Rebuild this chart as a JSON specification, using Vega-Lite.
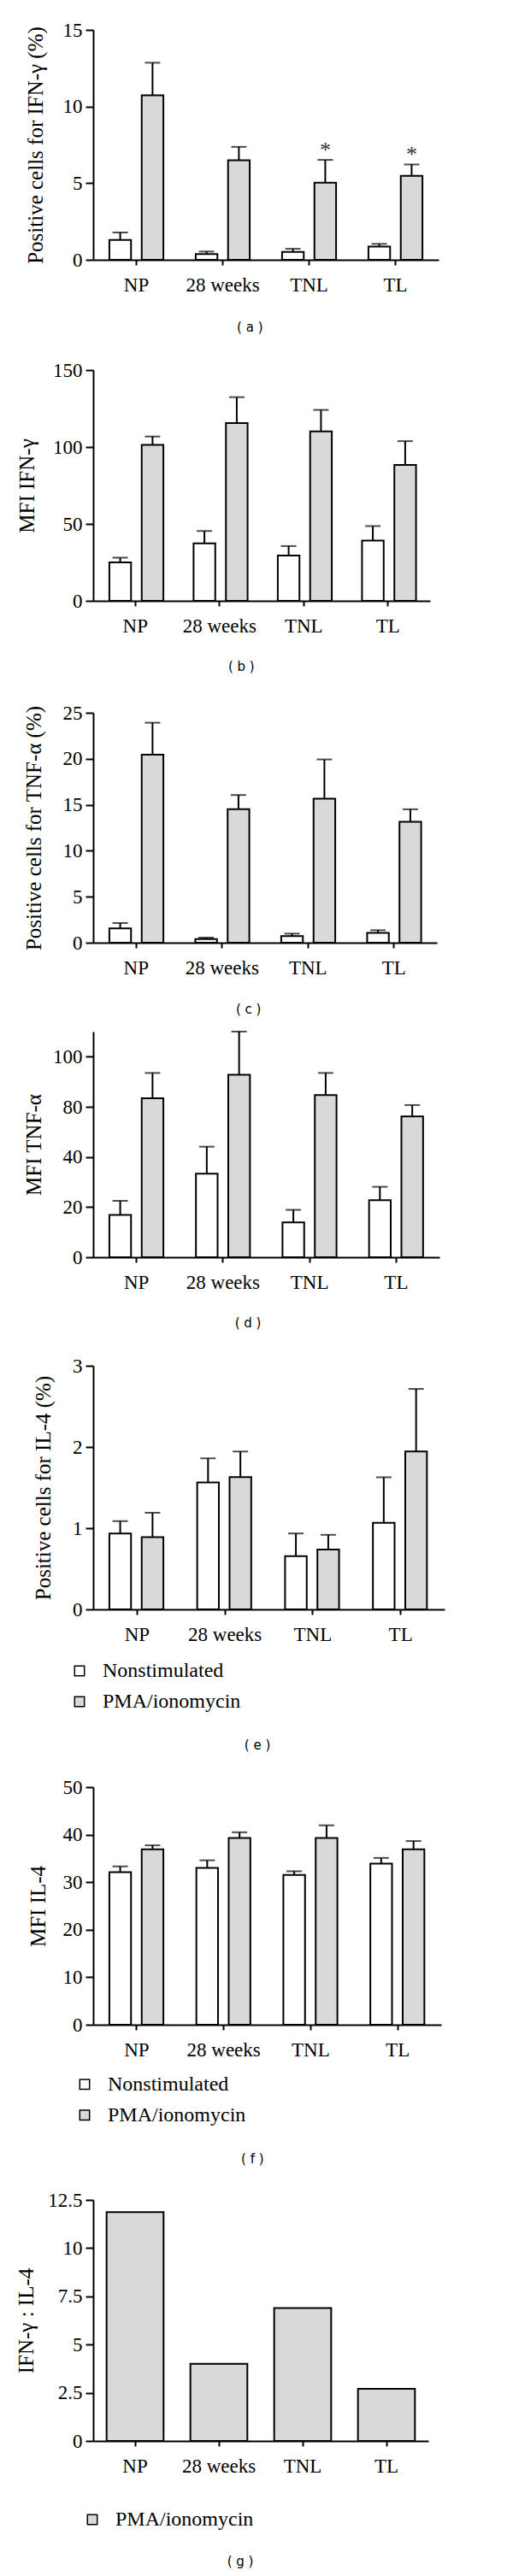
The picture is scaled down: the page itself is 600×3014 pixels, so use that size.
{
  "$schema": "https://vega.github.io/schema/vega-lite/v6.json",
  "background": "white",
  "padding": {"left": 18, "top": 24, "right": 5, "bottom": 5},
  "columns": 1,
  "align": "none",
  "spacing": 10,
  "resolve": {"scale": {"x": "independent", "y": "independent", "color": "independent"}, "legend": {"color": "independent"}},
  "config": {
    "view": {"stroke": null},
    "axis": {"domainColor": "black", "domainWidth": 2, "tickColor": "black", "tickWidth": 2, "labelColor": "black", "labelFont": "Liberation Serif", "labelFontSize": 23, "titleFont": "Liberation Serif", "titleFontSize": 25, "titleFontWeight": "normal", "titleColor": "black", "grid": false},
    "axisX": {"tickSize": 6, "labelPadding": 12.4, "labelAngle": 0},
    "axisY": {"tickSize": 9, "labelPadding": 4},
    "title": {"orient": "bottom", "font": "DejaVu Sans", "fontSize": 15, "fontWeight": "normal", "color": "black", "anchor": "middle", "frame": "group", "subtitleFontSize": 1, "subtitleColor": "white"},
    "legend": {"orient": "none", "direction": "vertical", "symbolType": "square", "symbolSize": 130, "symbolStrokeColor": "black", "symbolStrokeWidth": 1.5, "labelFont": "Liberation Serif", "labelFontSize": 24, "labelColor": "black", "rowPadding": 12, "labelOffset": 15, "padding": 0, "labelLimit": 400}
  },
  "concat": [
    {
      "width": 404, "height": 269,
      "data": {"values": [
        {"group": "NP", "cond": "Nonstimulated", "mean": 1.3, "err": 1.78},
        {"group": "NP", "cond": "PMA/ionomycin", "mean": 10.73, "err": 12.86},
        {"group": "28 weeks", "cond": "Nonstimulated", "mean": 0.37, "err": 0.54},
        {"group": "28 weeks", "cond": "PMA/ionomycin", "mean": 6.5, "err": 7.37},
        {"group": "TNL", "cond": "Nonstimulated", "mean": 0.52, "err": 0.72},
        {"group": "TNL", "cond": "PMA/ionomycin", "mean": 5.03, "err": 6.52, "sig": "*"},
        {"group": "TL", "cond": "Nonstimulated", "mean": 0.87, "err": 1.04},
        {"group": "TL", "cond": "PMA/ionomycin", "mean": 5.48, "err": 6.22, "sig": "*"}
      ]},
      "title": {"text": "( a )", "dx": -18.7, "offset": 30.1, "subtitle": " ", "subtitlePadding": 20.5},
      "encoding": {
        "x": {"field": "group", "type": "nominal", "sort": ["NP", "28 weeks", "TNL", "TL"], "scale": {"paddingInner": 0, "paddingOuter": 0}, "axis": {"title": null}},
        "xOffset": {"field": "cond", "type": "nominal", "sort": ["Nonstimulated", "PMA/ionomycin"], "scale": {"paddingInner": 0.33, "paddingOuter": 0.5}}
      },
      "layer": [
        {"mark": {"type": "bar", "stroke": "black", "strokeWidth": 2},
         "encoding": {
           "y": {"field": "mean", "type": "quantitative", "title": "Positive cells for IFN-γ (%)", "scale": {"domain": [0, 15], "nice": false}, "axis": {"values": [0, 5, 10, 15], "titlePadding": 18.7}},
           "color": {"field": "cond", "type": "nominal", "scale": {"domain": ["Nonstimulated", "PMA/ionomycin"], "range": ["#ffffff", "#d9d9d9"]}, "legend": null}}},
        {"mark": {"type": "rule", "strokeWidth": 2, "color": "black"},
         "encoding": {"y": {"field": "mean", "type": "quantitative", "title": "Positive cells for IFN-γ (%)"}, "y2": {"field": "err"}}},
        {"mark": {"type": "tick", "thickness": 2, "size": 18, "color": "black"},
         "encoding": {"y": {"field": "err", "type": "quantitative", "title": "Positive cells for IFN-γ (%)"}}},
        {"transform": [{"filter": "datum.sig"}],
         "mark": {"type": "text", "font": "Liberation Serif", "fontSize": 26, "baseline": "alphabetic", "dy": -3, "color": "#333333"},
         "encoding": {"y": {"field": "err", "type": "quantitative", "title": "Positive cells for IFN-γ (%)"}, "text": {"field": "sig"}}}
      ]
    },
    {
      "width": 394, "height": 270,
      "data": {"values": [
        {"group": "NP", "cond": "Nonstimulated", "mean": 25.0, "err": 28.0},
        {"group": "NP", "cond": "PMA/ionomycin", "mean": 101.4, "err": 106.8},
        {"group": "28 weeks", "cond": "Nonstimulated", "mean": 37.3, "err": 45.4},
        {"group": "28 weeks", "cond": "PMA/ionomycin", "mean": 115.5, "err": 132.4},
        {"group": "TNL", "cond": "Nonstimulated", "mean": 29.5, "err": 35.6},
        {"group": "TNL", "cond": "PMA/ionomycin", "mean": 110.1, "err": 124.1},
        {"group": "TL", "cond": "Nonstimulated", "mean": 39.1, "err": 48.6},
        {"group": "TL", "cond": "PMA/ionomycin", "mean": 88.3, "err": 103.8}
      ]},
      "title": {"text": "( b )", "dx": -23.7, "offset": 28.4, "subtitle": " ", "subtitlePadding": 23.9},
      "encoding": {
        "x": {"field": "group", "type": "nominal", "sort": ["NP", "28 weeks", "TNL", "TL"], "scale": {"paddingInner": 0, "paddingOuter": 0}, "axis": {"title": null}},
        "xOffset": {"field": "cond", "type": "nominal", "sort": ["Nonstimulated", "PMA/ionomycin"], "scale": {"paddingInner": 0.33, "paddingOuter": 0.5}}
      },
      "layer": [
        {"mark": {"type": "bar", "stroke": "black", "strokeWidth": 2},
         "encoding": {
           "y": {"field": "mean", "type": "quantitative", "title": "MFI IFN-γ", "scale": {"domain": [0, 150], "nice": false}, "axis": {"values": [0, 50, 100, 150], "titlePadding": 17.2}},
           "color": {"field": "cond", "type": "nominal", "scale": {"domain": ["Nonstimulated", "PMA/ionomycin"], "range": ["#ffffff", "#d9d9d9"]}, "legend": null}}},
        {"mark": {"type": "rule", "strokeWidth": 2, "color": "black"},
         "encoding": {"y": {"field": "mean", "type": "quantitative", "title": "MFI IFN-γ"}, "y2": {"field": "err"}}},
        {"mark": {"type": "tick", "thickness": 2, "size": 18, "color": "black"},
         "encoding": {"y": {"field": "err", "type": "quantitative", "title": "MFI IFN-γ"}}}
      ]
    },
    {
      "width": 402, "height": 269,
      "data": {"values": [
        {"group": "NP", "cond": "Nonstimulated", "mean": 1.55, "err": 2.13},
        {"group": "NP", "cond": "PMA/ionomycin", "mean": 20.45, "err": 23.92},
        {"group": "28 weeks", "cond": "Nonstimulated", "mean": 0.4, "err": 0.56},
        {"group": "28 weeks", "cond": "PMA/ionomycin", "mean": 14.51, "err": 16.06},
        {"group": "TNL", "cond": "Nonstimulated", "mean": 0.71, "err": 0.99},
        {"group": "TNL", "cond": "PMA/ionomycin", "mean": 15.66, "err": 19.93},
        {"group": "TL", "cond": "Nonstimulated", "mean": 1.08, "err": 1.36},
        {"group": "TL", "cond": "PMA/ionomycin", "mean": 13.15, "err": 14.51}
      ]},
      "title": {"text": "( c )", "dx": -19.3, "offset": 29.4, "subtitle": " ", "subtitlePadding": 5.5},
      "encoding": {
        "x": {"field": "group", "type": "nominal", "sort": ["NP", "28 weeks", "TNL", "TL"], "scale": {"paddingInner": 0, "paddingOuter": 0}, "axis": {"title": null}},
        "xOffset": {"field": "cond", "type": "nominal", "sort": ["Nonstimulated", "PMA/ionomycin"], "scale": {"paddingInner": 0.33, "paddingOuter": 0.5}}
      },
      "layer": [
        {"mark": {"type": "bar", "stroke": "black", "strokeWidth": 2},
         "encoding": {
           "y": {"field": "mean", "type": "quantitative", "title": "Positive cells for TNF-α (%)", "scale": {"domain": [0, 25], "nice": false}, "axis": {"values": [0, 5, 10, 15, 20, 25], "titlePadding": 20.3}},
           "color": {"field": "cond", "type": "nominal", "scale": {"domain": ["Nonstimulated", "PMA/ionomycin"], "range": ["#ffffff", "#d9d9d9"]}, "legend": null}}},
        {"mark": {"type": "rule", "strokeWidth": 2, "color": "black"},
         "encoding": {"y": {"field": "mean", "type": "quantitative", "title": "Positive cells for TNF-α (%)"}, "y2": {"field": "err"}}},
        {"mark": {"type": "tick", "thickness": 2, "size": 18, "color": "black"},
         "encoding": {"y": {"field": "err", "type": "quantitative", "title": "Positive cells for TNF-α (%)"}}}
      ]
    },
    {
      "width": 405, "height": 264,
      "data": {"values": [
        {"group": "NP", "cond": "Nonstimulated", "mean": 16.9, "err": 22.5},
        {"group": "NP", "cond": "PMA/ionomycin", "mean": 83.4, "err": 93.5},
        {"group": "28 weeks", "cond": "Nonstimulated", "mean": 33.3, "err": 48.2},
        {"group": "28 weeks", "cond": "PMA/ionomycin", "mean": 92.8, "err": 110},
        {"group": "TNL", "cond": "Nonstimulated", "mean": 13.9, "err": 18.9},
        {"group": "TNL", "cond": "PMA/ionomycin", "mean": 84.7, "err": 93.5},
        {"group": "TL", "cond": "Nonstimulated", "mean": 22.8, "err": 28.1},
        {"group": "TL", "cond": "PMA/ionomycin", "mean": 72.3, "err": 80.7}
      ]},
      "title": {"text": "( d )", "dx": -21.5, "offset": 28.4, "subtitle": " ", "subtitlePadding": 19.9},
      "encoding": {
        "x": {"field": "group", "type": "nominal", "sort": ["NP", "28 weeks", "TNL", "TL"], "scale": {"paddingInner": 0, "paddingOuter": 0}, "axis": {"title": null}},
        "xOffset": {"field": "cond", "type": "nominal", "sort": ["Nonstimulated", "PMA/ionomycin"], "scale": {"paddingInner": 0.33, "paddingOuter": 0.5}}
      },
      "layer": [
        {"mark": {"type": "bar", "stroke": "black", "strokeWidth": 2},
         "encoding": {
           "y": {"field": "mean", "type": "quantitative", "title": "MFI TNF-α", "scale": {"domain": [0, 40, 80, 110], "range": [264, 146.7, 88, 0], "nice": false, "zero": false}, "axis": {"values": [0, 10, 20, 30, 40, 60, 80, 90, 100, 110], "labelExpr": "indexof([0, 20, 40, 80, 100], datum.value) >= 0 ? datum.value + '' : ''", "titlePadding": 9.5}},
           "color": {"field": "cond", "type": "nominal", "scale": {"domain": ["Nonstimulated", "PMA/ionomycin"], "range": ["#ffffff", "#d9d9d9"]}, "legend": null}}},
        {"mark": {"type": "rule", "strokeWidth": 2, "color": "black"},
         "encoding": {"y": {"field": "mean", "type": "quantitative", "title": "MFI TNF-α"}, "y2": {"field": "err"}}},
        {"mark": {"type": "tick", "thickness": 2, "size": 18, "color": "black"},
         "encoding": {"y": {"field": "err", "type": "quantitative", "title": "MFI TNF-α"}}}
      ]
    },
    {
      "width": 411, "height": 285,
      "data": {"values": [
        {"group": "NP", "cond": "Nonstimulated", "mean": 0.935, "err": 1.086},
        {"group": "NP", "cond": "PMA/ionomycin", "mean": 0.89, "err": 1.19},
        {"group": "28 weeks", "cond": "Nonstimulated", "mean": 1.564, "err": 1.86},
        {"group": "28 weeks", "cond": "PMA/ionomycin", "mean": 1.63, "err": 1.944},
        {"group": "TNL", "cond": "Nonstimulated", "mean": 0.656, "err": 0.935},
        {"group": "TNL", "cond": "PMA/ionomycin", "mean": 0.736, "err": 0.918},
        {"group": "TL", "cond": "Nonstimulated", "mean": 1.065, "err": 1.627},
        {"group": "TL", "cond": "PMA/ionomycin", "mean": 1.944, "err": 2.715}
      ]},
      "title": {"text": "( e )", "dx": -13.5, "offset": 32, "subtitle": " ", "subtitlePadding": 18.5},
      "encoding": {
        "x": {"field": "group", "type": "nominal", "sort": ["NP", "28 weeks", "TNL", "TL"], "scale": {"paddingInner": 0, "paddingOuter": 0}, "axis": {"title": null}},
        "xOffset": {"field": "cond", "type": "nominal", "sort": ["Nonstimulated", "PMA/ionomycin"], "scale": {"paddingInner": 0.33, "paddingOuter": 0.5}}
      },
      "layer": [
        {"mark": {"type": "bar", "stroke": "black", "strokeWidth": 2},
         "encoding": {
           "y": {"field": "mean", "type": "quantitative", "title": "Positive cells for IL-4 (%)", "scale": {"domain": [0, 3], "nice": false}, "axis": {"values": [0, 1, 2, 3], "labelExpr": "datum.value + ''", "titlePadding": 21.5}},
           "color": {"field": "cond", "type": "nominal", "scale": {"domain": ["Nonstimulated", "PMA/ionomycin"], "range": ["#ffffff", "#d9d9d9"]}, "legend": {"title": null, "legendX": -28, "legendY": 345}}}},
        {"mark": {"type": "rule", "strokeWidth": 2, "color": "black"},
         "encoding": {"y": {"field": "mean", "type": "quantitative", "title": "Positive cells for IL-4 (%)"}, "y2": {"field": "err"}}},
        {"mark": {"type": "tick", "thickness": 2, "size": 18, "color": "black"},
         "encoding": {"y": {"field": "err", "type": "quantitative", "title": "Positive cells for IL-4 (%)"}}}
      ]
    },
    {
      "width": 407, "height": 278,
      "data": {"values": [
        {"group": "NP", "cond": "Nonstimulated", "mean": 32.1, "err": 33.3},
        {"group": "NP", "cond": "PMA/ionomycin", "mean": 36.9, "err": 37.75},
        {"group": "28 weeks", "cond": "Nonstimulated", "mean": 33.0, "err": 34.6},
        {"group": "28 weeks", "cond": "PMA/ionomycin", "mean": 39.3, "err": 40.5},
        {"group": "TNL", "cond": "Nonstimulated", "mean": 31.5, "err": 32.3},
        {"group": "TNL", "cond": "PMA/ionomycin", "mean": 39.3, "err": 41.96},
        {"group": "TL", "cond": "Nonstimulated", "mean": 33.9, "err": 35.1},
        {"group": "TL", "cond": "PMA/ionomycin", "mean": 36.9, "err": 38.65}
      ]},
      "title": {"text": "( f )", "dx": -17.2, "offset": 32, "subtitle": " ", "subtitlePadding": 18.2},
      "encoding": {
        "x": {"field": "group", "type": "nominal", "sort": ["NP", "28 weeks", "TNL", "TL"], "scale": {"paddingInner": 0, "paddingOuter": 0}, "axis": {"title": null}},
        "xOffset": {"field": "cond", "type": "nominal", "sort": ["Nonstimulated", "PMA/ionomycin"], "scale": {"paddingInner": 0.33, "paddingOuter": 0.5}}
      },
      "layer": [
        {"mark": {"type": "bar", "stroke": "black", "strokeWidth": 2},
         "encoding": {
           "y": {"field": "mean", "type": "quantitative", "title": "MFI IL-4", "scale": {"domain": [0, 50], "nice": false}, "axis": {"values": [0, 10, 20, 30, 40, 50], "titlePadding": 15.7}},
           "color": {"field": "cond", "type": "nominal", "scale": {"domain": ["Nonstimulated", "PMA/ionomycin"], "range": ["#ffffff", "#d9d9d9"]}, "legend": {"title": null, "legendX": -22, "legendY": 335.7}}}},
        {"mark": {"type": "rule", "strokeWidth": 2, "color": "black"},
         "encoding": {"y": {"field": "mean", "type": "quantitative", "title": "MFI IL-4"}, "y2": {"field": "err"}}},
        {"mark": {"type": "tick", "thickness": 2, "size": 18, "color": "black"},
         "encoding": {"y": {"field": "err", "type": "quantitative", "title": "MFI IL-4"}}}
      ]
    },
    {
      "width": 392, "height": 282,
      "data": {"values": [
        {"group": "NP", "cond": "PMA/ionomycin", "ratio": 11.87},
        {"group": "28 weeks", "cond": "PMA/ionomycin", "ratio": 4.0},
        {"group": "TNL", "cond": "PMA/ionomycin", "ratio": 6.89},
        {"group": "TL", "cond": "PMA/ionomycin", "ratio": 2.7}
      ]},
      "title": {"text": "( g )", "dx": -24, "offset": 30},
      "mark": {"type": "bar", "stroke": "black", "strokeWidth": 2, "width": {"band": 0.68}},
      "encoding": {
        "x": {"field": "group", "type": "nominal", "sort": ["NP", "28 weeks", "TNL", "TL"], "scale": {"paddingInner": 0, "paddingOuter": 0}, "axis": {"title": null}},
        "y": {"field": "ratio", "type": "quantitative", "title": "IFN-γ : IL-4", "scale": {"domain": [0, 12.5], "nice": false}, "axis": {"values": [0, 2.5, 5, 7.5, 10, 12.5], "labelExpr": "datum.value + ''", "titlePadding": 12.75}},
        "color": {"field": "cond", "type": "nominal", "scale": {"domain": ["PMA/ionomycin"], "range": ["#d9d9d9"]}, "legend": {"title": null, "legendX": -13, "legendY": 362}}
      }
    }
  ]
}
